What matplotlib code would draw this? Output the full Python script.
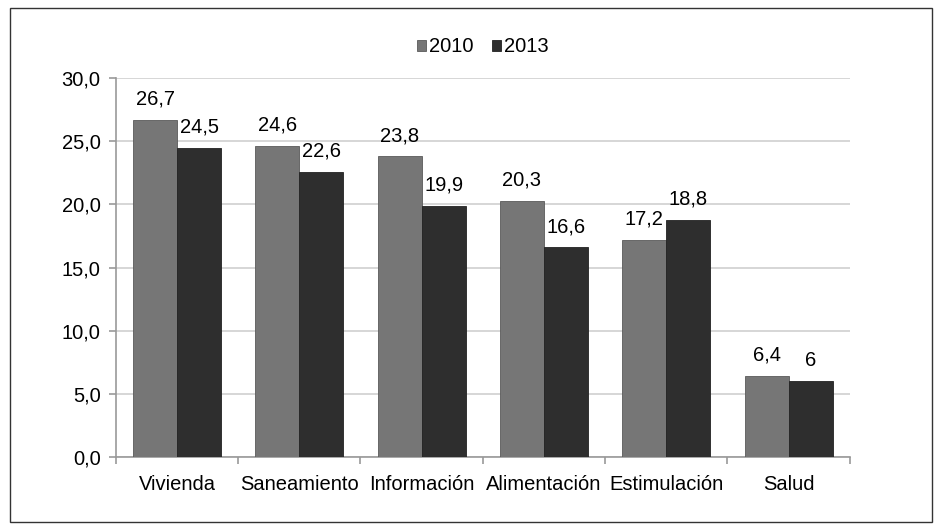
import numpy as np
import matplotlib.pyplot as plt
from matplotlib.patches import Rectangle

plt.rcParams['font.family'] = ['Liberation Sans', 'DejaVu Sans']

categorias = ['Vivienda', 'Saneamiento', 'Información', 'Alimentación', 'Estimulación', 'Salud']
valores_2010 = [26.7, 24.6, 23.8, 20.3, 17.2, 6.4]
valores_2013 = [24.5, 22.6, 19.9, 16.6, 18.8, 6.0]
etiquetas_2010 = ['26,7', '24,6', '23,8', '20,3', '17,2', '6,4']
etiquetas_2013 = ['24,5', '22,6', '19,9', '16,6', '18,8', '6']

color_2010 = '#767676'
color_2013 = '#2e2e2e'
fs = 14.5

fig = plt.figure(figsize=(9.42, 5.31), dpi=100)
ax = fig.add_axes([0.123, 0.139, 0.779, 0.714])

x = np.arange(len(categorias))
w = 0.36
b1 = ax.bar(x - w / 2, valores_2010, w, color=color_2010, edgecolor='#5a5a5a', linewidth=0.6, label='2010', zorder=3)
b2 = ax.bar(x + w / 2, valores_2013, w, color=color_2013, edgecolor='#222222', linewidth=0.6, label='2013', zorder=3)

for rect, lab in zip(b1, etiquetas_2010):
    ax.text(rect.get_x() + rect.get_width() / 2, rect.get_height() + 0.9, lab,
            ha='center', va='bottom', fontsize=fs)
for rect, lab in zip(b2, etiquetas_2013):
    ax.text(rect.get_x() + rect.get_width() / 2, rect.get_height() + 0.9, lab,
            ha='center', va='bottom', fontsize=fs)

ax.set_ylim(0, 30)
ax.set_xlim(-0.5, len(categorias) - 0.5)
ax.set_yticks(np.arange(0, 31, 5))
ax.set_yticklabels([f'{v:.1f}'.replace('.', ',') for v in np.arange(0, 31, 5)], fontsize=fs)
ax.set_xticks(x)
ax.set_xticklabels(categorias, fontsize=fs)
ax.set_xticks(np.arange(-0.5, len(categorias), 1), minor=True)
ax.tick_params(axis='x', which='major', length=0, pad=13)
ax.tick_params(axis='x', which='minor', length=5, color='#999999', width=1.2)
ax.tick_params(axis='y', length=5, color='#999999', width=1.2, pad=6)

ax.grid(axis='y', color='#cfcfcf', linewidth=1.2, zorder=0)
for s in ['top', 'right']:
    ax.spines[s].set_visible(False)
ax.spines['left'].set_color('#999999')
ax.spines['bottom'].set_color('#999999')
ax.spines['left'].set_linewidth(1.2)
ax.spines['bottom'].set_linewidth(1.2)

ax.legend(loc='upper center', bbox_to_anchor=(0.5, 1.155), ncol=2, frameon=False,
          fontsize=fs, handlelength=0.45, handleheight=0.45, handletextpad=0.15, columnspacing=0.9)

fig.patches.append(Rectangle((0.011, 0.017), 0.978, 0.968, transform=fig.transFigure,
                             fill=False, edgecolor='#333333', linewidth=1.0))

fig.savefig('out.png', dpi=100)
